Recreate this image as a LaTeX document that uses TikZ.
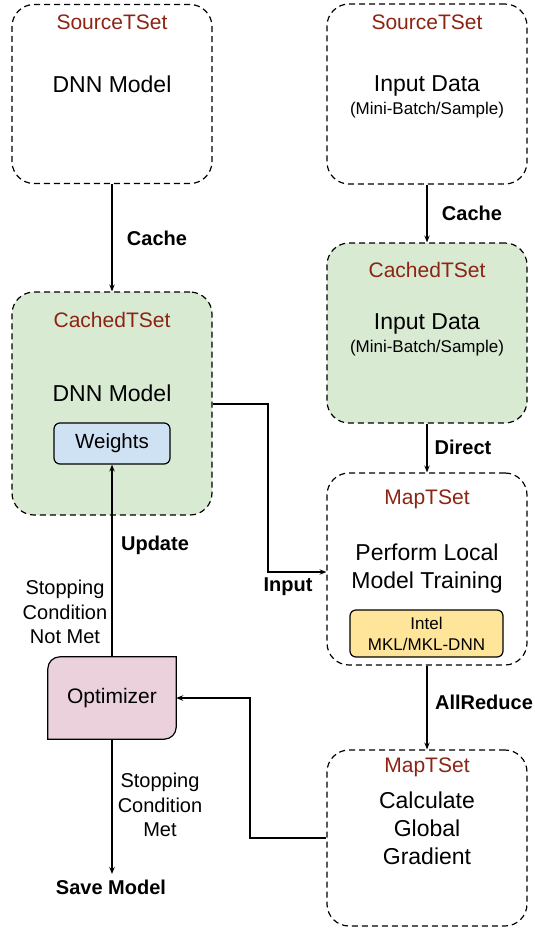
\documentclass[tikz,border=0pt]{standalone}
\usepackage{fontspec}
\setmainfont{Liberation Sans}
\usetikzlibrary{arrows.meta}
\definecolor{tred}{RGB}{140,36,20}
\definecolor{gfill}{HTML}{D9EAD3}
\definecolor{bfill}{HTML}{CFE2F3}
\definecolor{yfill}{HTML}{FFE599}
\definecolor{pfill}{HTML}{EAD1DC}
\tikzset{
  tset/.style={draw, line width=1.2pt, dash pattern=on 6pt off 4pt, rounded corners=22pt,
    minimum width=200pt, inner sep=0pt},
  inner/.style={draw, line width=1.2pt, rounded corners=6pt, inner sep=0pt},
  ttl/.style={text=tred, font=\fontsize{21}{24}\selectfont, inner sep=0pt},
  big/.style={font=\fontsize{23}{28}\selectfont, align=center, inner sep=0pt},
  sml/.style={font=\fontsize{17}{20}\selectfont, align=center, inner sep=0pt},
  lbl/.style={font=\fontsize{20}{24.5}\selectfont\bfseries, inner sep=0pt},
  cnd/.style={font=\fontsize{20}{24.5}\selectfont, align=center, inner sep=0pt},
  arr/.style={line width=1.2pt, -{Stealth[length=7pt,width=5.5pt,inset=2.5pt]}},
}
\begin{document}
\begin{tikzpicture}[x=1pt,y=-1pt]
\useasboundingbox (0,0) rectangle (535,930);
% boxes
\node[tset, minimum height=179pt] (srcL) at (112,94) {};
\node[tset, minimum height=180pt] (srcR) at (427,94) {};
\node[tset, fill=gfill, minimum height=180pt] (cacR) at (427,333) {};
\node[tset, fill=gfill, minimum height=223pt] (cacL) at (112,403.5) {};
\node[tset, minimum height=192pt] (map1) at (427,569) {};
\node[tset, minimum height=176pt] (map2) at (427,838) {};
% texts
\node[ttl] (tsL) at (112,22) {SourceTSet};
\node[big] (dnnL) at (112,84) {DNN Model};
\node[ttl] (tsR) at (427,22) {SourceTSet};
\node[big] (inR) at (427,86) {Input Data};
\node[sml] (mbR) at (427,110) {(Mini-Batch/Sample)};
\node[ttl] (tcR) at (427,270) {CachedTSet};
\node[big] (inC) at (427,324) {Input Data};
\node[sml] (mbC) at (427,348) {(Mini-Batch/Sample)};
\node[ttl] (tcL) at (112,320) {CachedTSet};
\node[big] (dnnC) at (112,393) {DNN Model};
\node[inner, fill=bfill, minimum width=116pt, minimum height=41pt, font=\fontsize{20.5}{24}\selectfont] (wts) at (112,443.5) {Weights};
\node[ttl] (tm1) at (427,499) {MapTSet};
\node[big] (plt) at (427,568.5) {Perform Local\\Model Training};
\node[inner, fill=yfill, minimum width=153pt, minimum height=47pt, font=\fontsize{17}{21}\selectfont, align=center] (mkl) at (426.5,633.5) {Intel\\MKL/MKL-DNN};
\node[ttl] (tm2) at (427,767) {MapTSet};
\node[big] (cgg) at (427,828) {Calculate\\Global\\Gradient};
% optimizer
\node[minimum width=128pt, minimum height=82pt, inner sep=0pt] (opt) at (112,698) {};
\draw[line width=1.2pt, fill=pfill] (opt.south west) -- ([yshift=-12pt]opt.north west)
  arc[start angle=180, end angle=90, radius=12pt] -- (opt.north east)
  -- ([yshift=12pt]opt.south east) arc[start angle=0, end angle=-90, radius=12pt] -- cycle;
\node[font=\fontsize{21}{24}\selectfont] (optT) at (112,698) {Optimizer};
\node[lbl] (save) at (111,887) {Save Model};
% connectors
\draw[arr] (srcL.south) -- (cacL.north);
\node[lbl] (cacheL) at (157,238) {Cache};
\draw[arr] (srcR.south) -- (cacR.north);
\node[lbl] (cacheR) at (472,213) {Cache};
\draw[arr] (cacR.south) -- (map1.north);
\node[lbl] (direct) at (463,447) {Direct};
\draw[arr] (map1.south) -- (map2.north);
\node[lbl] (allr) at (484,702) {AllReduce};
\coordinate (j1) at (268,404);
\coordinate (j2) at (268,572);
\draw[arr] (cacL.east |- j1) -- (j1) -- (j2) -- (map1.west |- j2);
\node[lbl] (inp) at (288,587) {Input};
\coordinate (j3) at (250,838);
\draw[arr] (map2.west |- j3) -- (j3) |- (opt.east);
\draw[arr] (opt.north) -- (wts.south);
\node[lbl] (upd) at (155,545) {Update};
\node[cnd] (notmet) at (65,612) {Stopping\\Condition\\Not Met};
\coordinate (j4) at (112,874);
\draw[arr] (opt.south) -- (j4);
\node[cnd] (met) at (160,805) {Stopping\\Condition\\Met};
\end{tikzpicture}
\end{document}
